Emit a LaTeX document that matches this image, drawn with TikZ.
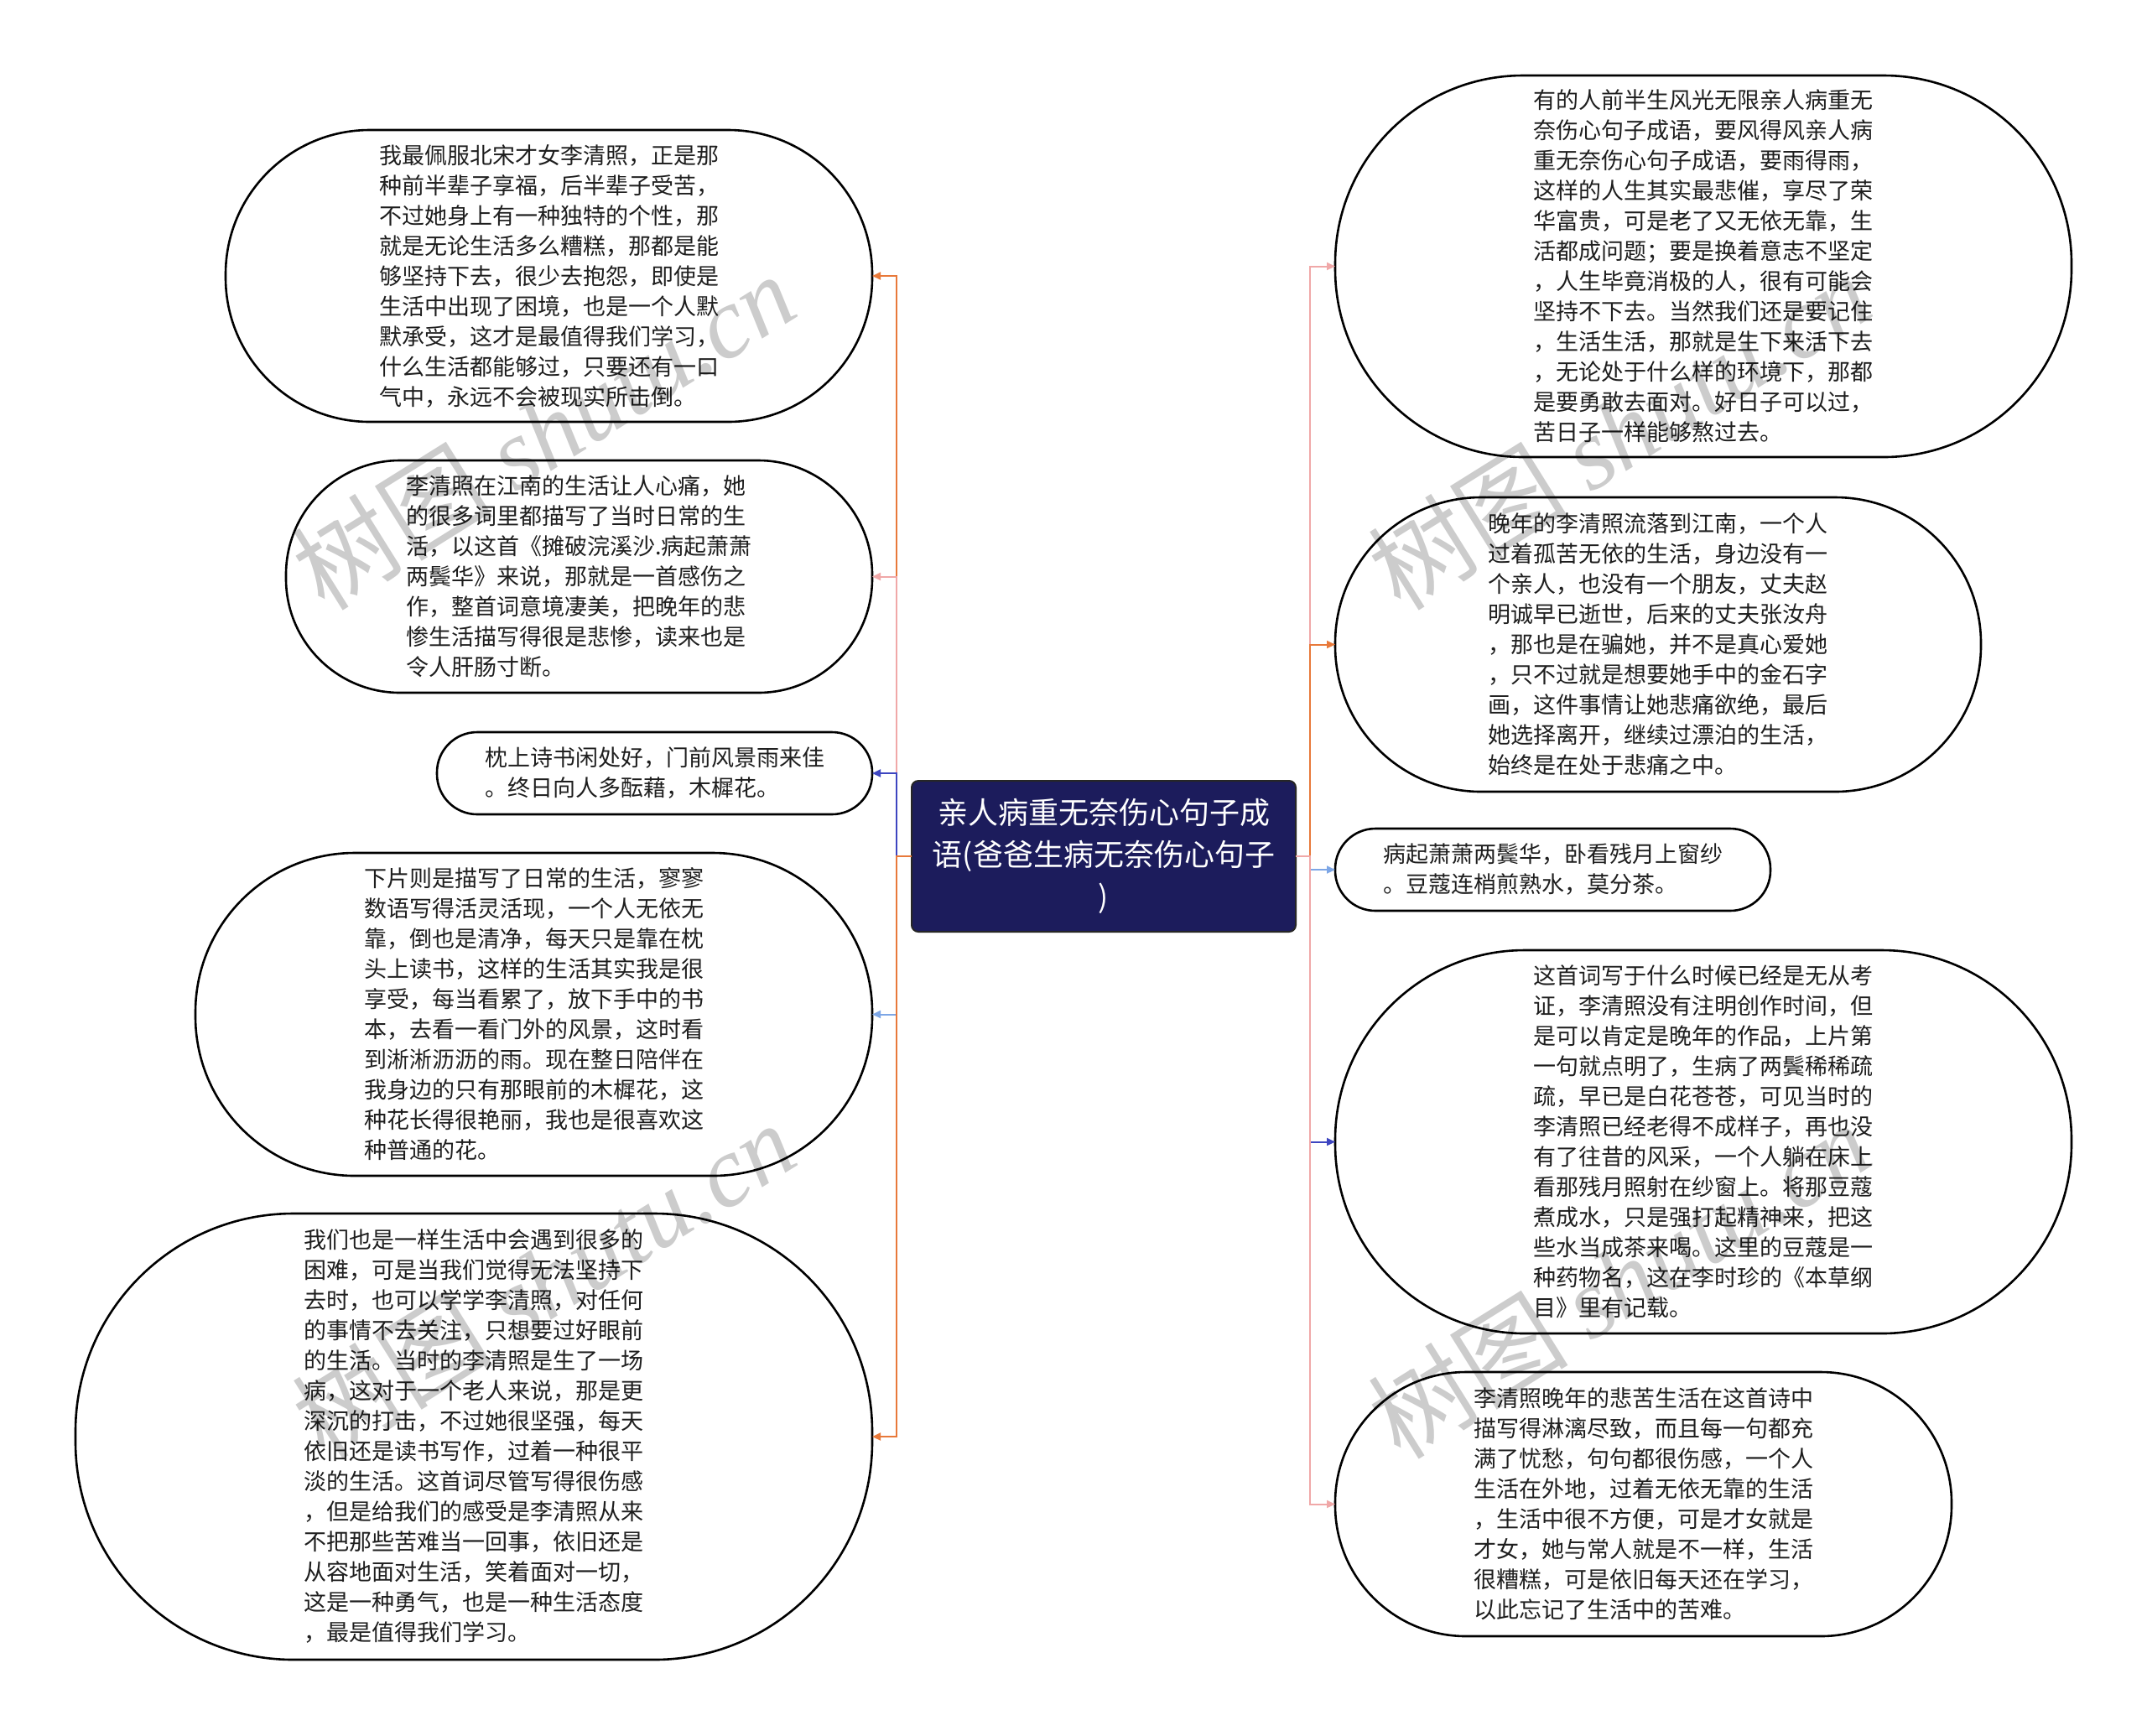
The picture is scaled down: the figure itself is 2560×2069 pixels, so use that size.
\documentclass[tikz,border=0pt]{standalone}
\usepackage{fontspec}
\setmainfont{Noto Sans CJK SC}
\newfontfamily\wmfont{Liberation Serif}
\usetikzlibrary{arrows.meta}
\definecolor{orangec}{HTML}{E8793A}
\definecolor{pinkc}{HTML}{F0A8A8}
\definecolor{indigoc}{HTML}{3D45C0}
\definecolor{lbluec}{HTML}{7DA6E6}
\definecolor{navyc}{HTML}{1C1C5C}
\definecolor{textc}{HTML}{1E1E1E}
\begin{document}
\begin{tikzpicture}[x=0.5pt,y=-0.5pt,
  txt/.style={font=\fontsize{13.5pt}{18pt}\selectfont, text=textc, align=left,
    inner sep=0pt, outer sep=0pt, draw=black, line width=1.3pt, fill=white},
  lbox/.style={txt, anchor=east},
  rbox/.style={txt, anchor=west},
  central/.style={font=\fontsize{18pt}{25pt}\selectfont, text=white, fill=navyc,
    draw=black!85, line width=1pt, rounded corners=4pt, align=center,
    inner sep=0pt, outer sep=0pt, minimum width=229pt, minimum height=90pt},
  conn/.style={line width=1pt, -{Triangle[length=5pt,width=4.5pt]}},
  wmark/.style={rotate=32, text=black, text opacity=0.2,
    font=\fontsize{60pt}{60pt}\selectfont}
]
\path[use as bounding box, fill=white] (0,0) rectangle (2560,2069);

% central node
\node[central] (C) at (1316,1021) {亲人病重无奈伤心句子成\\语(爸爸生病无奈伤心句子\\)};

% left nodes
\node[lbox, minimum width=385.5pt, minimum height=174pt, rounded corners=86pt] (L1) at (1040,329) {我最佩服北宋才女李清照，正是那\\种前半辈子享福，后半辈子受苦，\\不过她身上有一种独特的个性，那\\就是无论生活多么糟糕，那都是能\\够坚持下去，很少去抱怨，即使是\\生活中出现了困境，也是一个人默\\默承受，这才是最值得我们学习，\\什么生活都能够过，只要还有一口\\气中，永远不会被现实所击倒。};

\node[lbox, minimum width=349.5pt, minimum height=138.5pt, rounded corners=68pt] (L2) at (1040,687.5) {李清照在江南的生活让人心痛，她\\的很多词里都描写了当时日常的生\\活，以这首《摊破浣溪沙.病起萧萧\\两鬓华》来说，那就是一首感伤之\\作，整首词意境凄美，把晚年的悲\\惨生活描写得很是悲惨，读来也是\\令人肝肠寸断。};

\node[lbox, minimum width=259.5pt, minimum height=49pt, rounded corners=24pt] (L3) at (1040,922) {枕上诗书闲处好，门前风景雨来佳\\。终日向人多酝藉，木樨花。};

\node[lbox, minimum width=403.5pt, minimum height=192.5pt, rounded corners=95pt] (L4) at (1040,1209.5) {下片则是描写了日常的生活，寥寥\\数语写得活灵活现，一个人无依无\\靠，倒也是清净，每天只是靠在枕\\头上读书，这样的生活其实我是很\\享受，每当看累了，放下手中的书\\本，去看一看门外的风景，这时看\\到淅淅沥沥的雨。现在整日陪伴在\\我身边的只有那眼前的木樨花，这\\种花长得很艳丽，我也是很喜欢这\\种普通的花。};

\node[lbox, minimum width=475pt, minimum height=266pt, rounded corners=130pt] (L5) at (1040,1713) {我们也是一样生活中会遇到很多的\\困难，可是当我们觉得无法坚持下\\去时，也可以学学李清照，对任何\\的事情不去关注，只想要过好眼前\\的生活。当时的李清照是生了一场\\病，这对于一个老人来说，那是更\\深沉的打击，不过她很坚强，每天\\依旧还是读书写作，过着一种很平\\淡的生活。这首词尽管写得很伤感\\，但是给我们的感受是李清照从来\\不把那些苦难当一回事，依旧还是\\从容地面对生活，笑着面对一切，\\这是一种勇气，也是一种生活态度\\，最是值得我们学习。};

% right nodes
\node[rbox, minimum width=439pt, minimum height=227.5pt, rounded corners=112pt] (R1) at (1592,317.5) {有的人前半生风光无限亲人病重无\\奈伤心句子成语，要风得风亲人病\\重无奈伤心句子成语，要雨得雨，\\这样的人生其实最悲催，享尽了荣\\华富贵，可是老了又无依无靠，生\\活都成问题；要是换着意志不坚定\\，人生毕竟消极的人，很有可能会\\坚持不下去。当然我们还是要记住\\，生活生活，那就是生下来活下去\\，无论处于什么样的环境下，那都\\是要勇敢去面对。好日子可以过，\\苦日子一样能够熬过去。};

\node[rbox, minimum width=385pt, minimum height=175.5pt, rounded corners=87pt] (R2) at (1592,768.5) {晚年的李清照流落到江南，一个人\\过着孤苦无依的生活，身边没有一\\个亲人，也没有一个朋友，丈夫赵\\明诚早已逝世，后来的丈夫张汝舟\\，那也是在骗她，并不是真心爱她\\，只不过就是想要她手中的金石字\\画，这件事情让她悲痛欲绝，最后\\她选择离开，继续过漂泊的生活，\\始终是在处于悲痛之中。};

\node[rbox, minimum width=259.5pt, minimum height=49pt, rounded corners=24pt] (R3) at (1592,1037) {病起萧萧两鬓华，卧看残月上窗纱\\。豆蔻连梢煎熟水，莫分茶。};

\node[rbox, minimum width=439pt, minimum height=228.5pt, rounded corners=113pt] (R4) at (1592,1361.5) {这首词写于什么时候已经是无从考\\证，李清照没有注明创作时间，但\\是可以肯定是晚年的作品，上片第\\一句就点明了，生病了两鬓稀稀疏\\疏，早已是白花苍苍，可见当时的\\李清照已经老得不成样子，再也没\\有了往昔的风采，一个人躺在床上\\看那残月照射在纱窗上。将那豆蔻\\煮成水，只是强打起精神来，把这\\些水当成茶来喝。这里的豆蔻是一\\种药物名，这在李时珍的《本草纲\\目》里有记载。};

\node[rbox, minimum width=367.5pt, minimum height=157.5pt, rounded corners=78pt] (R5) at (1592,1793.5) {李清照晚年的悲苦生活在这首诗中\\描写得淋漓尽致，而且每一句都充\\满了忧愁，句句都很伤感，一个人\\生活在外地，过着无依无靠的生活\\，生活中很不方便，可是才女就是\\才女，她与常人就是不一样，生活\\很糟糕，可是依旧每天还在学习，\\以此忘记了生活中的苦难。};

% trunk points
\coordinate (lt) at (1069,1021);
\coordinate (rt) at (1562,1021);

% connectors left
\draw[conn, orangec] (C.west) -- (lt) |- (L1.east);
\draw[conn, pinkc] (C.west) -- (lt) |- (L2.east);
\draw[conn, indigoc] (C.west) -- (lt) |- (L3.east);
\draw[conn, lbluec] (C.west) -- (lt) |- (L4.east);
\draw[conn, orangec] (C.west) -- (lt) |- (L5.east);

% connectors right
\draw[conn, pinkc] (C.east) -- (rt) |- (R1.west);
\draw[conn, orangec] (C.east) -- (rt) |- (R2.west);
\draw[conn, lbluec] (C.east) -- (rt) |- (R3.west);
\draw[conn, indigoc] (C.east) -- (rt) |- (R4.west);
\draw[conn, pinkc] (C.east) -- (rt) |- (R5.west);

% watermarks
\node[wmark] (w1) at (648,514) {树图 {\wmfont\itshape shutu.cn}};
\node[wmark] (w2) at (648,1526) {树图 {\wmfont\itshape shutu.cn}};
\node[wmark] (w3) at (1930,514) {树图 {\wmfont\itshape shutu.cn}};
\node[wmark] (w4) at (1930,1526) {树图 {\wmfont\itshape shutu.cn}};
\end{tikzpicture}
\end{document}
